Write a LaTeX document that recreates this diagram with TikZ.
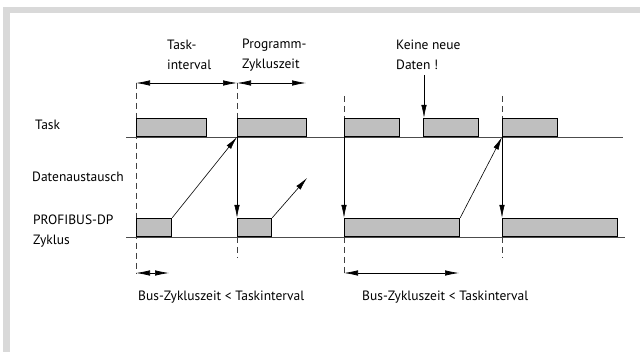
\documentclass[tikz,border=0pt]{standalone}
\usepackage{fontspec}
\setmainfont{PT Sans}
\usetikzlibrary{arrows.meta}
\begin{document}
\begin{tikzpicture}[x=1pt, y=-1pt,
  every node/.style={font=\fontsize{13.5}{20}\selectfont, inner sep=0pt},
  slot/.style={draw=black, line width=1.2pt, fill=black!25, minimum height=18pt, anchor=south west},
  axis/.style={draw=black!70, line width=0.8pt},
  guide/.style={draw=black!75, line width=0.7pt, dash pattern=on 6pt off 4pt},
  span/.style={draw=black, line width=0.7pt, {Latex[length=14pt,width=5.5pt]}-{Latex[length=14pt,width=5.5pt]}},
  flow/.style={draw=black, line width=0.6pt, -{Latex[length=13pt,width=5.5pt]}},
  lbl/.style={anchor=west, align=left}]
  % frame
  \fill[white] (0,0) rectangle (640,352);
  \fill[black!15] (3,7) rectangle (640,13);
  \fill[black!15] (3,7) rectangle (10,352);
  \useasboundingbox (0,0) rectangle (640,352);
  % time axes
  \coordinate (taskL) at (126,137); \coordinate (taskR) at (623,137);
  \coordinate (busL) at (126,237);  \coordinate (busR) at (625,237);
  \draw[axis] (taskL) -- (taskR);
  \draw[axis] (busL) -- (busR);
  % guide lines
  \coordinate (g1a) at (136,83);  \coordinate (g1b) at (136,274);
  \coordinate (g2a) at (237,83);  \coordinate (g2b) at (237,258);
  \coordinate (g3a) at (344,96);  \coordinate (g3b) at (344,273);
  \coordinate (g4a) at (502,96);  \coordinate (g4b) at (502,258);
  \draw[guide] (g1a) -- (g1b);
  % task boxes
  \node[slot, minimum width=70pt] (t1) at (136,137) {};
  \node[slot, minimum width=69pt] (t2) at (237,137) {};
  \node[slot, minimum width=55pt] (t3) at (344,137) {};
  \node[slot, minimum width=55pt] (t4) at (423,137) {};
  \node[slot, minimum width=55pt] (t5) at (502,137) {};
  % bus boxes
  \node[slot, minimum width=35pt] (b1) at (136,237) {};
  \node[slot, minimum width=34pt] (b2) at (237,237) {};
  \node[slot, minimum width=115pt] (b3) at (344,237) {};
  \node[slot, minimum width=115pt] (b4) at (502,237) {};
  \draw[guide] (g2a) -- (t2.north west);
  \draw[guide] (b2.south west) -- (g2b);
  \draw[guide] (g3a) -- (t3.north west);
  \draw[guide] (b3.south west) -- (g3b);
  \draw[guide] (g4a) -- (t5.north west);
  \draw[guide] (b4.south west) -- (g4b);
  % data exchange
  \draw[flow] (t2.south west) -- (b2.north west);
  \draw[flow] (t3.south west) -- (b3.north west);
  \draw[flow] (t5.south west) -- (b4.north west);
  \coordinate (out2) at (307,178);
  \draw[flow] (b1.north east) -- (t2.south west);
  \draw[flow] (b2.north east) -- (out2);
  \draw[flow] (b3.north east) -- (t5.south west);
  \coordinate (nd) at (424,75);
  \draw[flow] (nd) -- (t4.north west -| nd);
  % time spans
  \coordinate (p2) at (306,83);
  \draw[span] (g1a) -- (g2a);
  \draw[span] (g2a) -- (p2);
  \coordinate (s1a) at (136,273); \coordinate (s1b) at (169,273);
  \coordinate (s2a) at (344,273); \coordinate (s2b) at (459,273);
  \draw[span] (s1a) -- (s1b);
  \draw[span] (s2a) -- (s2b);
  % labels
  \node[lbl] (lTask) at (35,125) {Task};
  \node[lbl] (lData) at (32,177) {Datenaustausch};
  \node[lbl] (lBus) at (33,231) {PROFIBUS-DP\\Zyklus};
  \node[lbl] (lInt) at (167,55) {Task-\\interval};
  \node[lbl] (lPrg) at (242,55) {Programm-\\Zykluszeit};
  \node[lbl] (lNew) at (396,55) {Keine neue\\Daten !};
  \node[lbl] (lCmp1) at (138,297) {Bus-Zykluszeit < Taskinterval};
  \node[lbl] (lCmp2) at (362,297) {Bus-Zykluszeit < Taskinterval};
\end{tikzpicture}
\end{document}
